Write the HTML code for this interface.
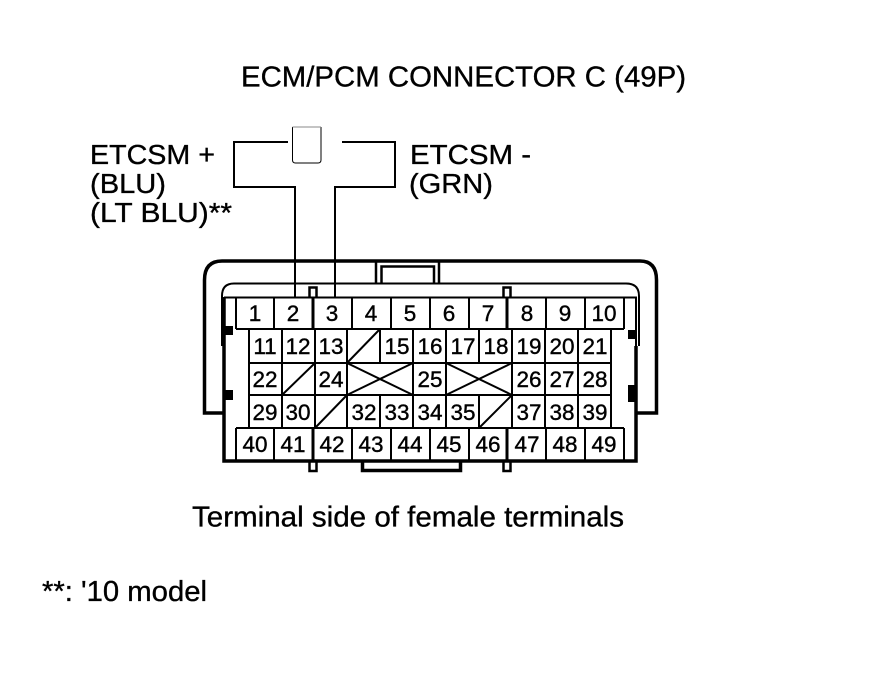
<!DOCTYPE html>
<html>
<head>
<meta charset="utf-8">
<style>
html,body{margin:0;padding:0;background:#fff;}
svg{display:block;}
text{font-family:"Liberation Sans",Arial,sans-serif;fill:#000;stroke:#000;}
.l{font-size:28px;stroke-width:.35px;}
.t{font-size:29px;stroke-width:.35px;}
.n{font-size:22.5px;text-anchor:middle;stroke-width:.4px;}
</style>
</head>
<body>
<svg width="880" height="684" viewBox="0 0 880 684" xmlns="http://www.w3.org/2000/svg">
<rect width="880" height="684" fill="#fff"/>

<!-- labels -->
<text class="t" x="241" y="86.500" textLength="445" lengthAdjust="spacingAndGlyphs">ECM/PCM CONNECTOR C (49P)</text>
<text class="l" x="90" y="164" textLength="125" lengthAdjust="spacingAndGlyphs">ETCSM +</text>
<text class="l" x="90" y="193" textLength="76" lengthAdjust="spacingAndGlyphs">(BLU)</text>
<text class="l" x="90" y="222" textLength="142" lengthAdjust="spacingAndGlyphs">(LT BLU)**</text>
<text class="l" x="410" y="164" textLength="121" lengthAdjust="spacingAndGlyphs">ETCSM -</text>
<text class="l" x="409" y="193" textLength="84" lengthAdjust="spacingAndGlyphs">(GRN)</text>
<text class="t" x="192" y="526.500" textLength="432" lengthAdjust="spacingAndGlyphs">Terminal side of female terminals</text>
<text class="t" x="42" y="601" textLength="165" lengthAdjust="spacingAndGlyphs">**: '10 model</text>

<!-- key symbol and wires -->
<g fill="none" stroke="#000" stroke-width="2">
<path d="M288 142H234V187H295V297"/>
<path d="M342 142H395V187H335V297"/>
</g>
<path d="M292.500 127V160Q292.500 163 295.500 163H318Q321 163 321 160V127" fill="none" stroke="#000" stroke-width="1"/>
<path d="M292.500 127H321" fill="none" stroke="#888" stroke-width="1"/>

<!-- outer shell -->
<g fill="none" stroke="#000">
<path d="M223 413H204.500V280Q204.500 261 222 261H640Q656.500 261 656.500 280V413H636" stroke-width="3.500"/>
<path d="M222 346V296Q222 283.500 234 283.500H626Q639 283.500 639 296V346" stroke-width="2"/>
<path d="M376 260V283M381.500 283V266.500H434V283M439 260V283" stroke-width="2.500"/>
<path d="M224 297V461H636V346" stroke-width="3.500"/>
<path d="M224 297.500H636V346" stroke-width="2"/>
<path d="M309.500 297V287.500H316.500V297M503.500 297V287.500H510.500V297" stroke-width="2.500"/>
<path d="M309.500 461V471H316.500V461M503.500 461V471H510.500V461" stroke-width="2.500"/>
<path d="M362.500 461V470.500H460.500V461" stroke-width="3.500"/>
</g>

<!-- black blocks -->
<g fill="#000">
<rect x="224" y="326" width="9" height="9"/>
<rect x="224" y="390" width="9" height="10"/>
<rect x="628" y="330" width="8" height="9"/>
<rect x="628" y="385" width="8" height="17"/>
</g>

<!-- terminal grid -->
<g fill="none" stroke="#000" stroke-width="2">
<path d="M236 329H624M236 428H624M249 363H611M249 395H611"/>
<path d="M236 297V329M274 297V329M352 297V329M391 297V329M430 297V329M469 297V329M546 297V329M585 297V329M624 297V329"/>
<path d="M236 428V461M274 428V461M352 428V461M391 428V461M430 428V461M469 428V461M546 428V461M585 428V461M624 428V461"/>
<path d="M313 297V329M507 297V329M313 428V461M507 428V461" stroke-width="3"/>
<path d="M249 329V428M611 329V428"/>
<path d="M282 329V428M315 329V428M347 329V428M380 329V363M413 329V428M446 329V428M479 329V363M512 329V428M545 329V428M578 329V428"/>
<path d="M380 395V428M479 395V428"/>
</g>
<g fill="none" stroke="#000" stroke-width="2">
<path d="M347 363L380 329M282 395L315 363M315 428L347 395M479 428L512 395"/>
<path d="M347 363L413 395M347 395L413 363M446 363L512 395M446 395L512 363"/>
</g>

<!-- row 1 -->
<g>
<text class="n" x="255" y="321">1</text>
<text class="n" x="293" y="321">2</text>
<text class="n" x="332" y="321">3</text>
<text class="n" x="371" y="321">4</text>
<text class="n" x="410" y="321">5</text>
<text class="n" x="449" y="321">6</text>
<text class="n" x="488" y="321">7</text>
<text class="n" x="527" y="321">8</text>
<text class="n" x="565" y="321">9</text>
<text class="n" x="604" y="321">10</text>
</g>
<!-- row 2 -->
<g>
<text class="n" x="265" y="354">11</text>
<text class="n" x="298" y="354">12</text>
<text class="n" x="331" y="354">13</text>
<text class="n" x="397" y="354">15</text>
<text class="n" x="430" y="354">16</text>
<text class="n" x="463" y="354">17</text>
<text class="n" x="496" y="354">18</text>
<text class="n" x="529" y="354">19</text>
<text class="n" x="562" y="354">20</text>
<text class="n" x="595" y="354">21</text>
</g>
<!-- row 3 -->
<g>
<text class="n" x="265" y="387">22</text>
<text class="n" x="331" y="387">24</text>
<text class="n" x="430" y="387">25</text>
<text class="n" x="529" y="387">26</text>
<text class="n" x="562" y="387">27</text>
<text class="n" x="595" y="387">28</text>
</g>
<!-- row 4 -->
<g>
<text class="n" x="265" y="420">29</text>
<text class="n" x="298" y="420">30</text>
<text class="n" x="364" y="420">32</text>
<text class="n" x="397" y="420">33</text>
<text class="n" x="430" y="420">34</text>
<text class="n" x="463" y="420">35</text>
<text class="n" x="529" y="420">37</text>
<text class="n" x="562" y="420">38</text>
<text class="n" x="595" y="420">39</text>
</g>
<!-- row 5 -->
<g>
<text class="n" x="255" y="452">40</text>
<text class="n" x="293" y="452">41</text>
<text class="n" x="332" y="452">42</text>
<text class="n" x="371" y="452">43</text>
<text class="n" x="410" y="452">44</text>
<text class="n" x="449" y="452">45</text>
<text class="n" x="488" y="452">46</text>
<text class="n" x="527" y="452">47</text>
<text class="n" x="565" y="452">48</text>
<text class="n" x="604" y="452">49</text>
</g>
</svg>
</body>
</html>
